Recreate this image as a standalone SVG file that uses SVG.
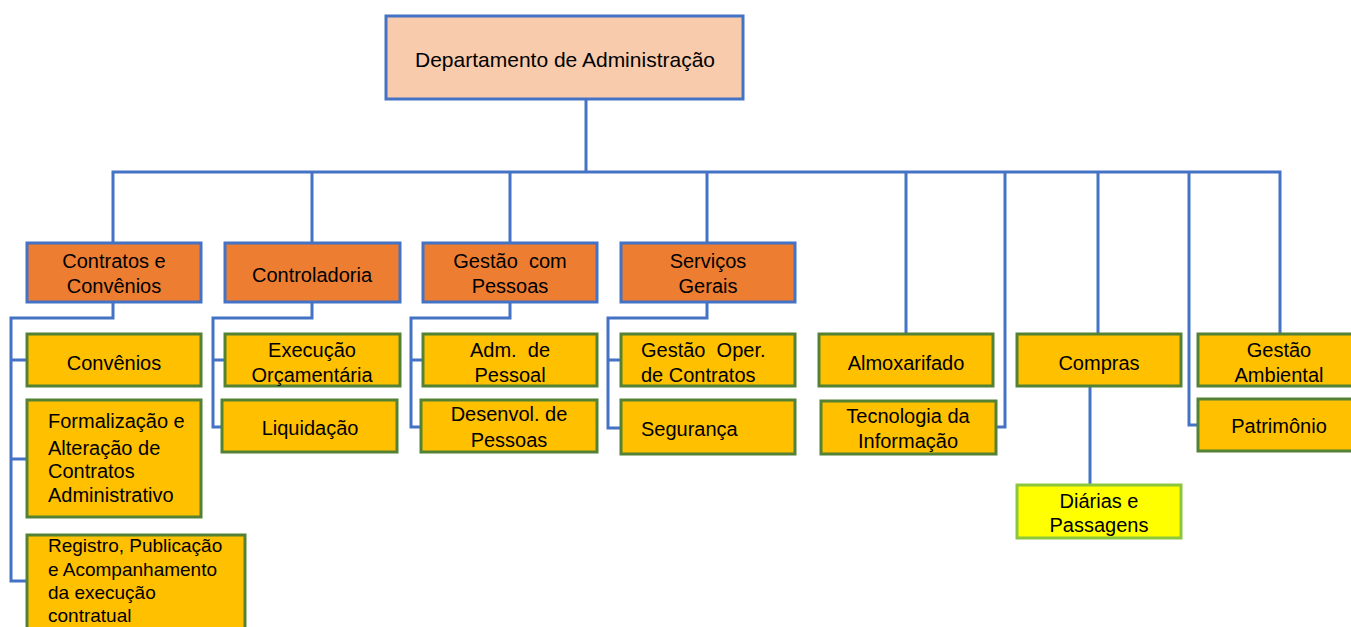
<svg xmlns="http://www.w3.org/2000/svg" width="1351" height="627" viewBox="0 0 1351 627">
<style>
text{font-family:"Liberation Sans",Arial,sans-serif;font-size:20px;fill:#000}
.c{text-anchor:middle}
.s{font-size:19px}
.t{font-size:21px}
.top{fill:#F8CBAD;stroke:#4472C4;stroke-width:3}
.or{fill:#ED7D31;stroke:#4472C4;stroke-width:3}
.ye{fill:#FFC000;stroke:#548235;stroke-width:3}
.lt{fill:#FFFF00;stroke:#8CC63F;stroke-width:3}
.ln{fill:none;stroke:#4472C4;stroke-width:3}
</style>
<rect width="1351" height="627" fill="#fff"/>
<g id="connectors" class="ln">
<path d="M586 99V171"/>
<path d="M113 243V172H1280V335"/>
<path d="M312 172V243M510 172V243M707 172V243M906 172V333"/>
<path d="M1005 172V427H996"/>
<path d="M1098 172V334"/>
<path d="M1189 172V425H1198"/>
<path d="M113 302V318H11V581H27M11 360H27M11 459H27"/>
<path d="M312 302V318H213V427H222M213 360H225"/>
<path d="M510 302V318H411V427H421M411 360H423"/>
<path d="M707 302V318H608V428H621M608 360H621"/>
<path d="M1090 386V485"/>
</g>
<g id="n-dep"><rect class="top" x="386" y="16" width="357" height="83"/><text class="c t" x="565" y="67">Departamento de Administração</text></g>
<g id="n-contratos"><rect class="or" x="27" y="243" width="174" height="59"/><text class="c" x="114" y="268">Contratos e</text><text class="c" x="114" y="293">Convênios</text></g>
<g id="n-controladoria"><rect class="or" x="225" y="243" width="175" height="59"/><text class="c" x="312" y="282">Controladoria</text></g>
<g id="n-gestao-pessoas"><rect class="or" x="423" y="243" width="174" height="59"/><text class="c" x="510" y="268" xml:space="preserve">Gestão  com</text><text class="c" x="510" y="293">Pessoas</text></g>
<g id="n-servicos"><rect class="or" x="621" y="243" width="174" height="59"/><text class="c" x="708" y="268">Serviços</text><text class="c" x="708" y="293">Gerais</text></g>
<g id="n-convenios"><rect class="ye" x="27" y="334" width="174" height="52"/><text class="c" x="114" y="370">Convênios</text></g>
<g id="n-formalizacao"><rect class="ye" x="27" y="400" width="174" height="117"/><text x="48" y="428">Formalização e</text><text x="48" y="455">Alteração de</text><text x="48" y="478">Contratos</text><text x="48" y="502">Administrativo</text></g>
<g id="n-registro"><rect class="ye" x="27" y="535" width="218" height="100"/><text class="s" x="48" y="552">Registro, Publicação</text><text class="s" x="48" y="576">e Acompanhamento</text><text class="s" x="48" y="599">da execução</text><text class="s" x="48" y="622">contratual</text></g>
<g id="n-execucao"><rect class="ye" x="225" y="334" width="175" height="52"/><text class="c" x="312" y="357">Execução</text><text class="c" x="312" y="382">Orçamentária</text></g>
<g id="n-liquidacao"><rect class="ye" x="222" y="400" width="175" height="52"/><text class="c" x="310" y="435">Liquidação</text></g>
<g id="n-adm-pessoal"><rect class="ye" x="423" y="334" width="174" height="52"/><text class="c" x="510" y="357" xml:space="preserve">Adm.  de</text><text class="c" x="510" y="382">Pessoal</text></g>
<g id="n-desenvol"><rect class="ye" x="421" y="400" width="176" height="52"/><text class="c" x="509" y="421">Desenvol. de</text><text class="c" x="509" y="447">Pessoas</text></g>
<g id="n-gestao-oper"><rect class="ye" x="621" y="334" width="174" height="52"/><text x="641" y="357" xml:space="preserve">Gestão  Oper.</text><text x="641" y="382">de Contratos</text></g>
<g id="n-seguranca"><rect class="ye" x="621" y="400" width="174" height="54"/><text x="641" y="436">Segurança</text></g>
<g id="n-almox"><rect class="ye" x="819" y="334" width="174" height="52"/><text class="c" x="906" y="370">Almoxarifado</text></g>
<g id="n-ti"><rect class="ye" x="821" y="401" width="175" height="53"/><text class="c" x="908" y="423">Tecnologia da</text><text class="c" x="908" y="448">Informação</text></g>
<g id="n-compras"><rect class="ye" x="1017" y="334" width="164" height="52"/><text class="c" x="1099" y="370">Compras</text></g>
<g id="n-diarias"><rect class="lt" x="1017" y="485" width="164" height="53"/><text class="c" x="1099" y="508">Diárias e</text><text class="c" x="1099" y="532">Passagens</text></g>
<g id="n-gestao-amb"><rect class="ye" x="1198" y="334" width="160" height="52"/><text class="c" x="1279" y="357">Gestão</text><text class="c" x="1279" y="382">Ambiental</text></g>
<g id="n-patrimonio"><rect class="ye" x="1198" y="399" width="160" height="52"/><text class="c" x="1279" y="433">Patrimônio</text></g>
</svg>
